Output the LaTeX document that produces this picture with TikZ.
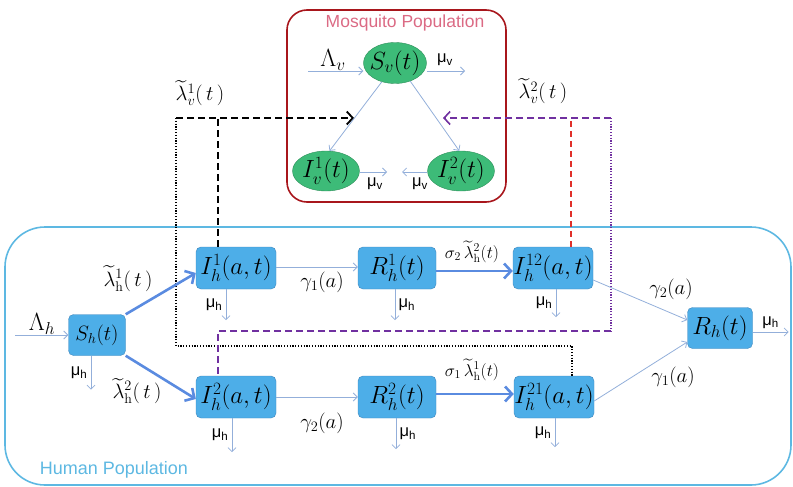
\documentclass[tikz,border=0pt]{standalone}
\usepackage{amsmath}
\usepackage{fontspec}
\setsansfont{Liberation Sans}
\usetikzlibrary{arrows.meta,shapes.geometric}
\definecolor{BoxBlue}{HTML}{4DAEE8}
\definecolor{BoxEdge}{HTML}{3F86BC}
\definecolor{FlowBlue}{HTML}{5A8BE0}
\definecolor{ThinBlue}{HTML}{93AFDA}
\definecolor{VecGreen}{HTML}{3DBB78}
\definecolor{VecEdge}{HTML}{2E8F5A}
\definecolor{MosqRed}{HTML}{A8161C}
\definecolor{MosqText}{HTML}{DB6A84}
\definecolor{HumBlue}{HTML}{5DB8E2}
\definecolor{Purple}{HTML}{7030A0}
\definecolor{DashRed}{HTML}{E0302A}
\newcommand{\mus}[1]{\textsf{μ\textsubscript{#1}}}

\begin{document}
\begin{tikzpicture}[x=1pt, y=-1pt,
  hbox/.style={draw=BoxEdge, fill=BoxBlue, rounded corners=5pt, minimum width=80pt, minimum height=42pt, inner sep=0pt, font=\fontsize{25}{27}\selectfont},
  vbox/.style={ellipse, draw=VecEdge, fill=VecGreen, minimum width=67pt, minimum height=40pt, inner sep=0pt, font=\fontsize{25}{27}\selectfont},
  lightflow/.style={-{Straight Barb[length=4pt,width=8pt]}, ThinBlue, line width=0.8pt},
  heavyflow/.style={-{Straight Barb[length=7pt,width=15pt]}, FlowBlue, line width=2.6pt},
  lab/.style={font=\fontsize{20}{22}\selectfont},
  mulab/.style={text=black, font=\fontsize{16.5}{18}\selectfont},
  dashtip/.style={-{Straight Barb[length=6pt,width=13pt]}},
  blackdash/.style={black, line width=1.8pt, dash pattern=on 7pt off 4pt},
  purdash/.style={Purple, line width=1.6pt, dash pattern=on 7pt off 4pt},
  reddash/.style={DashRed, line width=1.4pt, dash pattern=on 6pt off 4pt},
  dotline/.style={line width=1.2pt, dash pattern=on 1.2pt off 1.6pt}]
  \useasboundingbox (0,0) rectangle (793,487);

  \draw[HumBlue, line width=1.6pt, rounded corners=40pt] (5,227) rectangle (791,485);
  \node[HumBlue, font=\sffamily\fontsize{18}{20}\selectfont] (humtxt) at (114,470) {Human Population};
  \draw[MosqRed, line width=1.6pt, rounded corners=20pt] (287,10) rectangle (506,202);
  \node[MosqText, font=\sffamily\fontsize{17.5}{19}\selectfont] (mosqtxt) at (405,23) {Mosquito Population};

  \node[vbox, minimum width=63pt, minimum height=41pt] (Sv) at (395,63) {\makebox[0pt]{$S_v(t)$}};
  \node[vbox] (Iv1) at (326,171) {\makebox[0pt]{$I_v^1(t)$}};
  \node[vbox] (Iv2) at (461,171) {\makebox[0pt]{$I_v^2(t)$}};

  \node[hbox, minimum width=57pt, minimum height=41pt, font=\fontsize{22}{24}\selectfont] (Sh) at (97,335) {$S_h(t)$};
  \node[hbox] (Ih1) at (236,268) {$I_h^1(a,t)$};
  \node[hbox] (Ih2) at (236,397) {$I_h^2(a,t)$};
  \node[hbox, minimum width=78pt] (Rh1) at (397,268) {$R_h^1(t)$};
  \node[hbox, minimum width=78pt] (Rh2) at (397,397) {$R_h^2(t)$};
  \node[hbox] (Ih12) at (553,268) {$I_h^{12}(a,t)$};
  \node[hbox] (Ih21) at (554,397) {$I_h^{21}(a,t)$};
  \node[hbox, minimum width=65pt, minimum height=41pt] (Rh) at (720,328) {$R_h(t)$};

  \coordinate (vl) at (176,118);
  \coordinate (vr) at (611,118);
  \coordinate (vlend) at (354,118);
  \coordinate (vrend) at (443,118);
  \coordinate (dotlow) at (176,346);
  \coordinate (purlow) at (611,331);
  \draw[blackdash, dashtip] (vl) -- (vlend);
  \draw[purdash, dashtip] (vr) -- (vrend);
  \draw[blackdash] ([xshift=-18pt]Ih1.north) -- ([xshift=-18pt]Ih1.north |- vl);
  \draw[reddash] ([xshift=18pt]Ih12.north) -- ([xshift=18pt]Ih12.north |- vr);
  \draw[dotline, black] (vl) -- (dotlow) -| ([xshift=18pt]Ih21.north);
  \draw[dotline, Purple] (vr) -- (purlow);
  \draw[purdash, line width=1.2pt] (purlow) -| ([xshift=-18pt]Ih2.north);
  \node[lab] (lamv1) at (200,93) {$\widetilde{\lambda}_{v}^{1}(\,t\,)$};
  \node[lab] (lamv2) at (543,91) {$\widetilde{\lambda}_{v}^{2}(\,t\,)$};

  \coordinate (svin) at (308,71);
  \coordinate (svout) at (465,71);
  \coordinate (iv1out) at (387,172);
  \coordinate (iv2out) at (402,172);
  \draw[lightflow] (svin) -- (Sv.west |- svin);
  \draw[lightflow] (Sv.east |- svout) -- (svout);
  \node[font=\fontsize{24}{26}\selectfont] (lamv) at (333,60) {$\Lambda_v$};
  \node[mulab] (muv) at (445,60) {\mus{v}};
  \draw[lightflow] (Sv.235) -- (Iv1.80);
  \draw[lightflow] (Sv.310) -- (Iv2.95);
  \draw[lightflow] (Iv1.east |- iv1out) -- (iv1out);
  \draw[lightflow] (Iv2.west |- iv2out) -- (iv2out);
  \node[mulab] (muv1) at (375,184) {\mus{v}};
  \node[mulab] (muv2) at (420,184) {\mus{v}};

  \coordinate (lamhin) at (15,335);
  \draw[lightflow] (lamhin) -- (Sh);
  \node[font=\fontsize{24}{26}\selectfont] (lamh) at (42,324) {$\Lambda_h$};
  \draw[heavyflow] (Sh.north east) -- ([yshift=-5pt]Ih1.west);
  \draw[heavyflow] (Sh.south east) -- ([yshift=-2pt]Ih2.west);
  \node[lab] (lamh1) at (128,279) {$\widetilde{\lambda}_{\mathrm{h}}^{1}(\,t\,)$};
  \node[lab] (lamh2) at (137,391) {$\widetilde{\lambda}_{\mathrm{h}}^{2}(\,t\,)$};
  \draw[lightflow] ([yshift=1pt]Ih1.east) -- ([yshift=1pt]Rh1.west);
  \draw[lightflow] (Ih2) -- (Rh2);
  \node[lab] (gam1) at (322,282) {$\gamma_1(a)$};
  \node[lab] (gam2) at (322,423) {$\gamma_2(a)$};
  \draw[heavyflow] ([yshift=-3pt]Rh1.east) -- ([yshift=-3pt]Ih12.west);
  \draw[heavyflow] ([yshift=3pt]Rh2.east) -- ([yshift=3pt]Ih21.west);
  \node[font=\fontsize{17}{19}\selectfont] (sig2) at (472,252) {$\sigma_2\,\widetilde{\lambda}_{\mathrm{h}}^{2}(t)$};
  \node[font=\fontsize{17}{19}\selectfont] (sig1) at (472,370) {$\sigma_1\,\widetilde{\lambda}_{\mathrm{h}}^{1}(t)$};
  \draw[lightflow] ([yshift=-12pt]Ih12.east) -- ([yshift=8pt]Rh.west);
  \draw[lightflow] ([yshift=-4pt]Ih21.east) -- ([yshift=-14pt]Rh.west);
  \node[lab] (gam3) at (671,289) {$\gamma_2(a)$};
  \node[lab] (gam4) at (673,377) {$\gamma_1(a)$};
  \draw[lightflow] ([yshift=-4pt]Rh.east) -- ++(36,0) node[mulab, midway, above] (muR) {\mus{h}};

  \foreach \n/\dx/\len/\side in {Sh/-6/34/left, Ih1/-10/31/left, Ih2/-4/34/left, Rh1/-2/31/right, Rh2/-1/31/right, Ih12/3/28/left, Ih21/1/29/left}
    \draw[lightflow] ([xshift=\dx pt]\n.south) -- ++(0,\len) node[mulab, midway, \side] (mu\n) {\mus{h}};
\end{tikzpicture}
\end{document}
